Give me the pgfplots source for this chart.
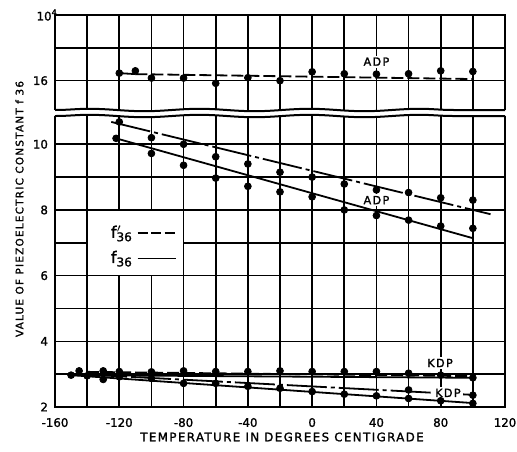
\documentclass[border=0pt]{standalone}
\usepackage{fontspec}
\setmainfont{DejaVu Sans}[FakeBold=1.5]
\newfontfamily\lett{DejaVu Sans}[LetterSpace=12, FakeBold=1.5]
\usepackage{pgfplots}
\pgfplotsset{compat=1.18}
\usetikzlibrary{decorations.pathmorphing}

\pgfplotsset{
  brk/.style={
    scale only axis, width=225pt, xmin=-160, xmax=120,
    axis line style={draw=none}, clip=false,
    grid=both,
    major grid style={black, line width=0.8pt},
    minor grid style={black, line width=0.8pt},
    major tick length=0pt, minor tick length=0pt,
    tick label style={font=\fontsize{5.9}{6}\selectfont},
    xticklabel style={yshift=-2pt},
    /pgf/number format/assume math mode=true,
    xtick={-160,-120,...,120}, minor xtick={-140,-100,...,100},
  },
  pts/.style={only marks, mark=*, mark size=1.7pt, black, forget plot},
  fit/.style={black, line width=0.9pt, no marks, forget plot},
  dd/.style={fit, dash pattern=on 20pt off 2pt on 2pt off 2pt},
  dsh/.style={fit, dash pattern=on 6pt off 2pt},
}
\tikzset{
  wavy/.style={line width=1pt, decorate, decoration={snake, amplitude=0.6pt, segment length=55pt}},
  lbl/.style={fill=white, inner sep=1pt, font=\lett\fontsize{5.6}{6}\selectfont},
}

\begin{document}
\begin{tikzpicture}
\useasboundingbox (0,0) rectangle (258.5pt,225.5pt);

% upper part (ADP f'36)
\begin{axis}[brk, at={(27.5pt,170.5pt)}, anchor=south west, height=47.5pt,
  ymin=15.107, ymax=18, ytick={16}, minor ytick={17}, xticklabels={}]
  \draw[line width=1pt] (rel axis cs:0,0) -- (rel axis cs:0,1) -- (rel axis cs:1,1) -- (rel axis cs:1,0);
  \draw[wavy] (rel axis cs:0,0) -- (rel axis cs:1,0);
  \node[anchor=east, inner sep=1.5pt, font=\fontsize{5.9}{6}\selectfont] at (rel axis cs:0,1) {10\rlap{\textsuperscript{4}}};
  \addplot[fit] coordinates {(-120,16.23) (-110,16.2)};
  \addplot[dsh] coordinates {(-110,16.2) (100,16.05)};
  \addplot[pts] coordinates {(-120,16.23) (-110,16.30) (-100,16.08) (-80,16.08) (-60,15.92)
    (-40,16.09) (-20,16.0) (0,16.27) (20,16.21) (40,16.2) (60,16.21) (80,16.3) (100,16.28)};
  \node[lbl] at (axis cs:40,16.58) {ADP};
\end{axis}

% lower part
\begin{axis}[brk, at={(27.5pt,22pt)}, anchor=south west, height=145.5pt,
  ymin=2, ymax=10.86, ytick={2,4,6,8,10}, minor ytick={3,5,7,9},
  legend style={at={(axis cs:-106,6.91)}, anchor=center, draw=none, fill=none,
    font=\fontsize{8}{9}\selectfont, row sep=1pt,
    /tikz/every even column/.append style={column sep=2pt}},
  legend plot pos=right, legend cell align=left,
  legend image code/.code={\draw[#1, line width=0.9pt] (0pt,0pt) -- (19pt,0pt);}]
  \draw[line width=1pt] (rel axis cs:0,1) -- (rel axis cs:0,0) -- (rel axis cs:1,0) -- (rel axis cs:1,1);
  \draw[wavy] (rel axis cs:0,1) -- (rel axis cs:1,1);
  \fill[white] (axis cs:-139.5,6.025) rectangle (axis cs:-80.5,7.975);
  \addlegendimage{dash pattern=on 5pt off 1.7pt}
  \addlegendentry{f\rlap{$^{\prime}$}\textsubscript{36}}
  \addlegendimage{solid}
  \addlegendentry{f\textsubscript{36}}

  % ADP
  \addplot[dd] coordinates {(-125,10.68) (111,7.87)};
  \addplot[fit] coordinates {(-122,10.18) (100,7.14)};
  \addplot[pts] coordinates {(-120,10.68) (-100,10.2) (-80,10.0) (-60,9.62) (-40,9.40)
    (-20,9.15) (0,9.0) (20,8.79) (40,8.61) (60,8.53) (80,8.37) (100,8.30)};
  \addplot[pts] coordinates {(-122,10.18) (-100,9.72) (-80,9.36) (-60,8.97) (-40,8.72)
    (-20,8.55) (0,8.40) (20,8.0) (40,7.83) (60,7.69) (80,7.51) (100,7.44)};
  \node[lbl] at (axis cs:40,8.30) {ADP};

  % KDP
  \addplot[dsh] coordinates {(-140,3.07) (100,2.94)};
  \addplot[fit] coordinates {(-150,2.97) (100,2.89)};
  \addplot[dd] coordinates {(-145,3.0) (100,2.37)};
  \addplot[fit] coordinates {(-150,2.97) (100,2.12)};
  \addplot[pts] coordinates {(-145,3.10) (-130,3.10) (-120,3.08) (-100,3.07) (-80,3.10)
    (-60,3.08) (-40,3.08) (-20,3.10) (0,3.08) (20,3.08) (40,3.08) (60,3.03) (80,2.97) (100,2.89)};
  \addplot[pts] coordinates {(60,2.52) (100,2.36)};
  \addplot[pts] coordinates {(-150,2.97) (-140,2.95) (-130,2.84) (-120,2.92) (-100,2.87)
    (-80,2.72) (-60,2.72) (-40,2.63) (-20,2.57) (0,2.47) (20,2.39) (40,2.34) (60,2.26) (80,2.19) (100,2.11)};
  \node[lbl] at (axis cs:79.6,3.34) {KDP};
  \node[lbl] at (axis cs:84.5,2.43) {KDP};
\end{axis}

\node[rotate=90, font=\lett\fontsize{5.2}{6}\selectfont] at (9.75pt,121pt) {VALUE OF PIEZOELECTRIC CONSTANT f 36};
\node[font=\lett\fontsize{5.9}{6}\selectfont] at (141pt,7pt) {TEMPERATURE IN DEGREES CENTIGRADE};
\end{tikzpicture}
\end{document}
